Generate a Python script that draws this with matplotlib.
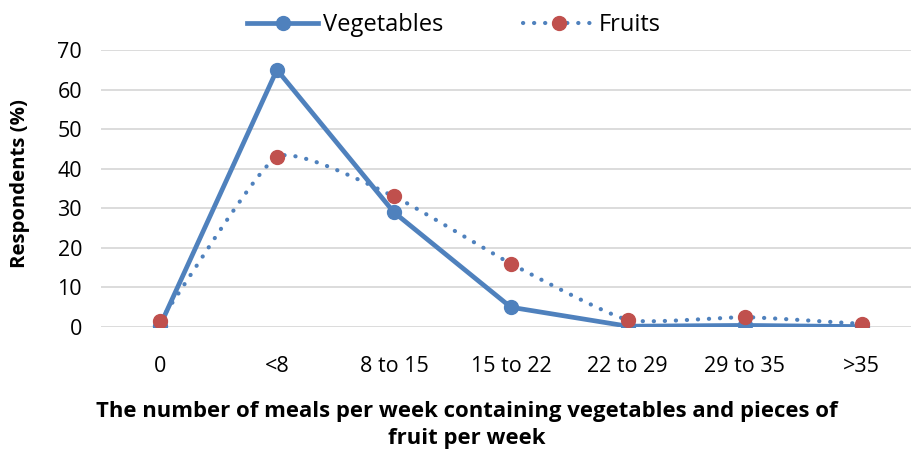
import numpy as np
import matplotlib
matplotlib.use("Agg")
import matplotlib.pyplot as plt
from matplotlib.lines import Line2D

plt.rcParams['font.family'] = ['Open Sans', 'DejaVu Sans']

categories = ["0", "<8", "8 to 15", "15 to 22", "22 to 29", "29 to 35", ">35"]
vegetables = [0.3, 65, 29, 5, 0.2, 0.4, 0.1]
fruits = [1.5, 43, 33, 16, 1.8, 2.5, 0.8]

BLUE = "#4F81BD"
RED = "#C0504D"


def smooth_curve(xs, ys, n=40, tension=0.5):
    """Hermite smoothing between consecutive points."""
    xs = np.asarray(xs, float)
    ys = np.asarray(ys, float)
    px = np.concatenate([[2 * xs[0] - xs[1]], xs, [2 * xs[-1] - xs[-2]]])
    py = np.concatenate([[2 * ys[0] - ys[1]], ys, [2 * ys[-1] - ys[-2]]])
    out_x, out_y = [], []
    for i in range(1, len(px) - 2):
        t = np.linspace(0, 1, n, endpoint=False)
        for arr, out in ((px, out_x), (py, out_y)):
            p0, p1, p2, p3 = arr[i - 1], arr[i], arr[i + 1], arr[i + 2]
            m1 = (p2 - p0) / 2 * tension
            m2 = (p3 - p1) / 2 * tension
            h00 = 2 * t**3 - 3 * t**2 + 1
            h10 = t**3 - 2 * t**2 + t
            h01 = -2 * t**3 + 3 * t**2
            h11 = t**3 - t**2
            out.extend(h00 * p1 + h10 * m1 + h01 * p2 + h11 * m2)
    out_x.append(xs[-1])
    out_y.append(ys[-1])
    return np.array(out_x), np.array(out_y)


fig = plt.figure(figsize=(9.12, 4.5), dpi=100)
ax = fig.add_axes([101.5 / 912, 1 - 327 / 450, 1 - 101.5 / 912, (327 - 50) / 450])

x = np.arange(len(categories))

for yv in range(0, 71, 10):
    ax.axhline(yv, color="#D9D9D9", lw=1.3, zorder=0)

ax.plot(x, vegetables, color=BLUE, lw=3.4, marker="o", markersize=10,
        markerfacecolor=BLUE, markeredgecolor=BLUE, zorder=3,
        solid_capstyle="round")

sx, sy = smooth_curve(x, fruits)
ax.plot(sx, sy, color=BLUE, lw=3.0, linestyle=(0, (0.05, 2.6)),
        dash_capstyle="round", zorder=2)
ax.plot(x, fruits, linestyle="none", marker="o", markersize=10,
        markerfacecolor=RED, markeredgecolor=RED, zorder=4)

ax.set_xlim(-0.5, 6.43)
ax.set_ylim(0, 70)
ax.set_yticks(range(0, 71, 10))
ax.set_xticks(x)
ax.set_xticklabels(categories)
ax.tick_params(axis="both", length=0, labelsize=15.5, colors="black")
ax.tick_params(axis="x", pad=21)
ax.tick_params(axis="y", pad=14)
for s in ax.spines.values():
    s.set_visible(False)

fig.text(20 / 912, 1 - 183 / 450, "Respondents (%)", rotation=90,
         ha="center", va="center", fontsize=14.7, fontweight="bold")
fig.text(467 / 912, 1 - 425 / 450,
         "The number of meals per week containing vegetables and pieces of\nfruit per week",
         ha="center", va="center", fontsize=15.9, fontweight="bold",
         linespacing=1.35)

handles = [
    Line2D([0], [0], color=BLUE, lw=3.4, marker="o", markersize=10,
           markerfacecolor=BLUE, markeredgecolor=BLUE),
    Line2D([0], [0], color=BLUE, lw=3.0, linestyle=(0, (0.05, 2.6)),
           dash_capstyle="round", marker="o", markersize=10,
           markerfacecolor=RED, markeredgecolor=RED),
]
fig.legend(handles, ["Vegetables", "Fruits"], loc="center",
           bbox_to_anchor=(454 / 912, 1 - 25 / 450), ncol=2, frameon=False,
           fontsize=17, handlelength=3.0, columnspacing=3.4,
           handletextpad=0.2, borderpad=0, borderaxespad=0)

fig.savefig("out.png", dpi=100)
